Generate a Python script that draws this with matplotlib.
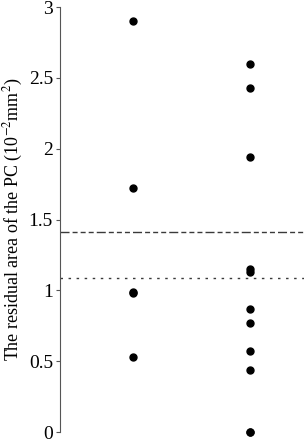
import matplotlib
matplotlib.use("Agg")
import matplotlib.pyplot as plt

plt.rcParams['font.family'] = ['Liberation Serif', 'DejaVu Serif']
plt.rcParams['mathtext.fontset'] = 'stix'

# residual areas (10^-2 mm^2)
group_a = [2.90, 1.72, 0.99, 0.98, 0.53]
group_b = [2.60, 2.43, 1.94, 1.15, 1.13, 0.87, 0.77, 0.57, 0.44, 0.0, 0.0]
dash_level = 1.41   # dash-dot-dot-dot reference line
dot_level = 1.09    # dotted reference line

y_ticks = [0, 0.5, 1, 1.5, 2, 2.5, 3]
y_tick_labels = ['0', '0.5', '1', '1.5', '2', '2.5', '3']

fig = plt.figure(figsize=(3.04, 4.4), dpi=100)
ax = fig.add_axes([0.197, 0.018, 0.803, 0.966])

ax.plot([1] * len(group_a), group_a, 'o', color='black', markersize=5, clip_on=False)
ax.plot([2] * len(group_b), group_b, 'o', color='black', markersize=5, clip_on=False)

# one long dash followed by three short ones, as in the original
ax.axhline(dash_level, color='#3a3a3a', linewidth=1.0,
           dashes=(6.5, 2.2, 3.6, 2.2, 3.6, 2.2, 3.6, 2.2))
ax.axhline(dot_level, color='#3a3a3a', linewidth=1.0, dashes=(1.8, 4.0))

ax.set_xlim(0.376, 2.46)
ax.set_ylim(0, 3)
ax.set_yticks(y_ticks)
ax.set_yticklabels(y_tick_labels, fontsize=14)
ax.set_xticks([])

ax.spines['top'].set_visible(False)
ax.spines['right'].set_visible(False)
ax.spines['bottom'].set_visible(False)
ax.spines['left'].set_color('#555555')
ax.tick_params(axis='y', direction='out', length=3, width=0.8, color='#555555', pad=2)

ax.set_ylabel(r'The residual area of the PC (10$^{-2}$mm$^{2}$)', fontsize=13, labelpad=3)

fig.savefig('out.png', dpi=100)
